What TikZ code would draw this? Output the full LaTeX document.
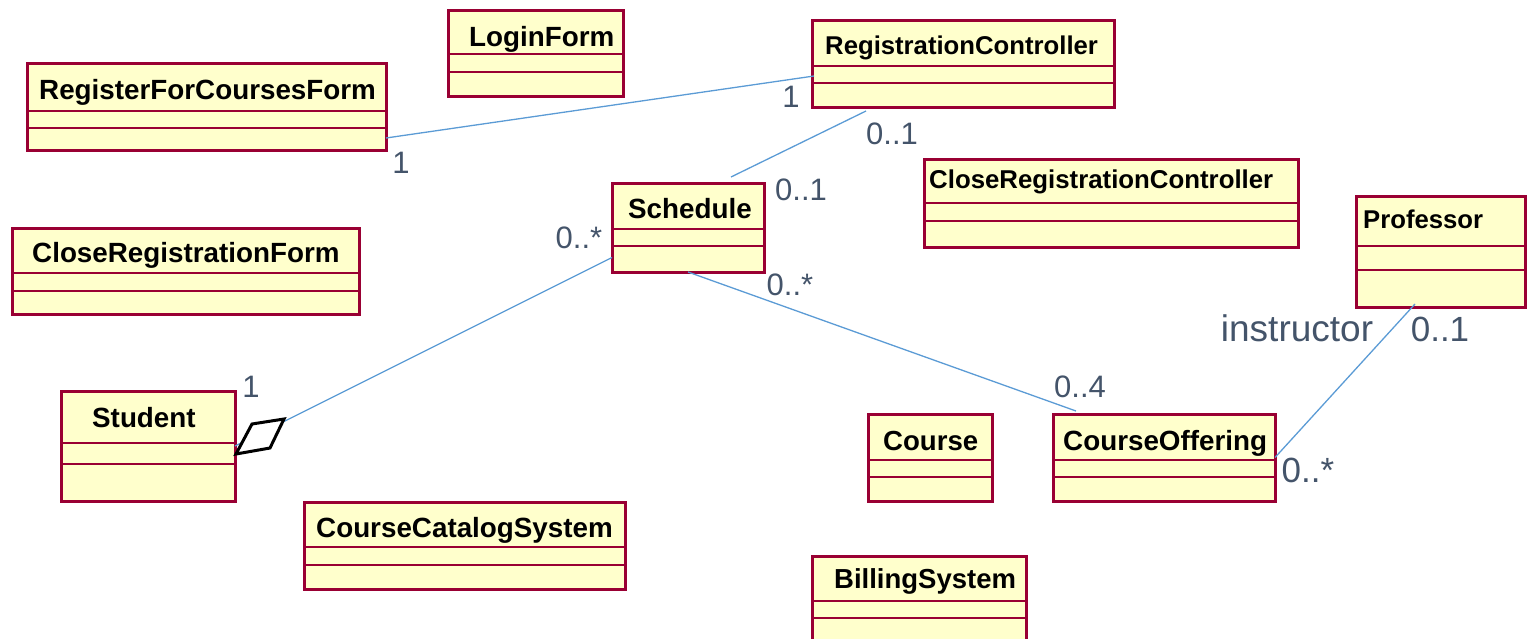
\documentclass[tikz,border=0pt]{standalone}
\usepackage{fontspec}
\setmainfont{Liberation Sans}
\usetikzlibrary{calc,fit}
\definecolor{umlborder}{RGB}{153,0,51}
\definecolor{umlfill}{RGB}{255,255,204}
\definecolor{assocblue}{RGB}{91,155,213}
\definecolor{multink}{RGB}{68,84,106}
\tikzset{
  classbox/.style={draw=umlborder,fill=umlfill,line width=3pt,inner sep=0pt,outer sep=0pt},
  compline/.style={draw=umlborder,line width=2.8pt},
  classname/.style={font=\fontsize{#1}{#1}\selectfont\bfseries,anchor=base west,inner sep=0pt},
  classname/.default=27.8,
  assoc/.style={draw=assocblue,line width=1.3pt},
  mult/.style={font=\fontsize{31}{36}\selectfont,text=multink,anchor=base,inner sep=0pt},
  bigmult/.style={mult,font=\fontsize{35}{40}\selectfont},
  aggr/.style={draw=black,fill=white,line width=3pt,line join=miter},
}
\begin{document}
\begin{tikzpicture}[x=1pt,y=-1pt]
  \useasboundingbox (0,0) rectangle (1527,638);
  \clip (0,0) rectangle (1527,638);
  % classes: name/label/left/top/right/bottom/sep1/sep2/text x/baseline/size
  \foreach \n/\t/\xa/\ya/\xb/\yb/\sa/\sb/\tx/\ty/\fs in {
    lf/LoginForm/448/10/623/96/54/72/469/46/27.8,
    rfc/RegisterForCoursesForm/27/63/386/150/111/128/39/99/27.8,
    crf/CloseRegistrationForm/12/228/359/314/273/291/32/262/27.8,
    rc/RegistrationController/812/20/1114/107/66/83/825/54/25.7,
    sch/Schedule/612/183/764/272/229/246/628/218/27.8,
    crc/CloseRegistrationController/924/159/1298/247/203/221/929/188/25.8,
    prof/Professor/1356/196/1525/307/246/270/1363/228/25.7,
    stu/Student/61/391/235/501/443/464/92/427/27.8,
    ccs/CourseCatalogSystem/304/502/625/589/547/565/316/537/27.8,
    crs/Course/868/414/992/501/460/477/883/450/27.6,
    co/CourseOffering/1053/414/1275/501/460/477/1063/450/27.8,
    bill/BillingSystem/812/556/1026/660/601/618/834/588/27.5}
  {
    \node[classbox,fit={(\xa,\ya)(\xb,\yb)}] (\n) {};
    \draw[compline] (\xa,\sa) -- (\xb,\sa) (\xa,\sb) -- (\xb,\sb);
    \node[classname=\fs] (\n-name) at (\tx,\ty) {\t};
  }

  % associations
  \draw[assoc] ($(rfc.south east)+(0,-12)$) -- ($(rc.north west)+(2,56)$);
  \draw[assoc] ($(rc.south west)+(54,4)$) -- ($(sch.north)+(43,-6)$);
  \draw[assoc] ($(sch.west)+(0,30)$) -- (stu.east);
  \draw[aggr] ($(stu.east)+(1,8)$) -- ++(16,-30) -- ++(32,-5) -- ++(-14,29) -- cycle;
  \draw[assoc] (sch.south) -- ($(co.north west)+(23,-3)$);
  \draw[assoc] ($(prof.south west)+(59,-3)$) -- (co.east);

  % multiplicities and role
  \node[mult] (m-rfc) at (401,173) {1};
  \node[mult] (m-rc) at (791,107) {1};
  \node[mult] (m-rc2) at (892,144) {0..1};
  \node[mult] (m-sch1) at (801,200) {0..1};
  \node[mult] (m-sch2) at (579,248) {0..*};
  \node[mult] (m-sch3) at (790,295) {0..*};
  \node[mult] (m-stu) at (251,397) {1};
  \node[mult] (m-co1) at (1080,397) {0..4};
  \node[bigmult,font=\fontsize{37}{42}\selectfont] (role) at (1297,341) {instructor};
  \node[bigmult] (m-prof) at (1440,341) {0..1};
  \node[bigmult] (m-co2) at (1308,482) {0..*};
\end{tikzpicture}
\end{document}
